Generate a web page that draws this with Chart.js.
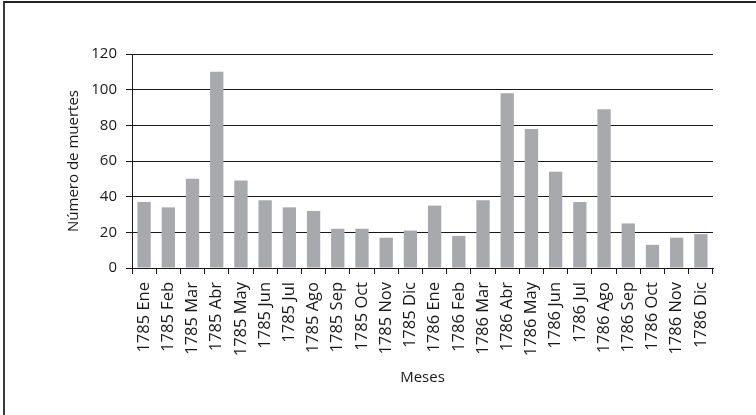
<!DOCTYPE html>
<html>
<head>
<meta charset="utf-8">
<script src="https://cdn.jsdelivr.net/npm/chart.js@4"></script>
<style>
  html, body { margin: 0; padding: 0; background: #fff; }
  #wrap { position: relative; width: 756px; height: 415px; overflow: hidden; }
  #frame { position: absolute; left: 3px; top: 1px; width: 800px; height: 500px;
           border-left: 2px solid #3a3a3a; border-top: 2px solid #222; box-sizing: border-box; pointer-events: none; }
  canvas { position: absolute; left: 0; top: 0; }
</style>
</head>
<body>
<div id="wrap">
  <canvas id="c" width="756" height="415"></canvas>
  <div id="frame"></div>
</div>
<script>
const categories = [
  "1785 Ene","1785 Feb","1785 Mar","1785 Abr","1785 May","1785 Jun",
  "1785 Jul","1785 Ago","1785 Sep","1785 Oct","1785 Nov","1785 Dic",
  "1786 Ene","1786 Feb","1786 Mar","1786 Abr","1786 May","1786 Jun",
  "1786 Jul","1786 Ago","1786 Sep","1786 Oct","1786 Nov","1786 Dic"
];
const deaths = [37, 34, 50, 110, 49, 38, 34, 32, 22, 22, 17, 21,
                35, 18, 38, 98, 78, 54, 37, 89, 25, 13, 17, 19];
const yTicks = [0, 20, 40, 60, 80, 100, 120];
const yTitle = "Número de muertes";
const xTitle = "Meses";

const ink = "#1a1718";
const font = { family: "'Open Sans', sans-serif", size: 15 };
const xFont = { family: "'Open Sans', sans-serif", size: 16.5 };

new Chart(document.getElementById("c"), {
  type: "bar",
  data: {
    labels: categories,
    datasets: [{
      data: deaths,
      backgroundColor: "#a7a9ac",
      borderWidth: 0,
      barPercentage: 0.55,
      categoryPercentage: 1.0
    }]
  },
  options: {
    responsive: false,
    animation: false,
    devicePixelRatio: 1,
    layout: { padding: { left: 65, top: 54, right: 43, bottom: 28 } },
    plugins: { legend: { display: false }, tooltip: { enabled: false } },
    scales: {
      x: {
        grid: { display: true, drawOnChartArea: false, drawTicks: true, tickLength: 6, color: ink, lineWidth: 1, offset: true },
        border: { display: true, color: ink, width: 1 },
        ticks: { color: ink, font: xFont, minRotation: 90, maxRotation: 90, autoSkip: false, padding: 8 },
        title: { display: true, text: xTitle, color: ink, font: font, padding: { top: 0, bottom: 0 } },
        afterFit: (s) => { s.height = 119; s.paddingLeft = 0; s.paddingRight = 0; }
      },
      y: {
        min: 0, max: 120,
        afterBuildTicks: (s) => { s.ticks = yTicks.map(v => ({ value: v })); },
        grid: { color: ink, lineWidth: 1, drawTicks: true, tickLength: 6 },
        border: { display: true, color: ink, width: 1 },
        ticks: { color: ink, font: font, padding: 9 },
        title: { display: true, text: yTitle, color: ink, font: font, padding: { top: 0, bottom: 0 } },
        afterFit: (s) => { s.width = 67; s.paddingTop = 0; s.paddingBottom = 0; }
      }
    }
  }
});
</script>
</body>
</html>
